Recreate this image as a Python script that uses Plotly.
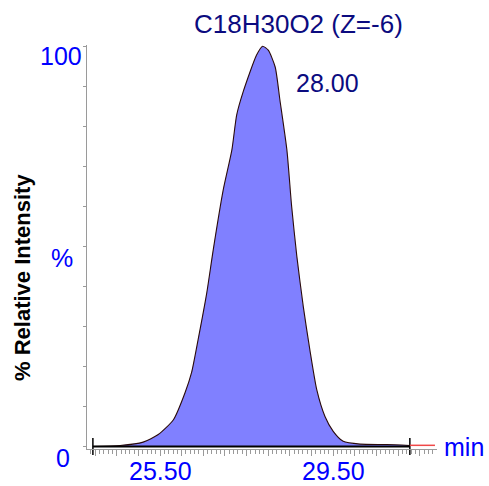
import plotly.graph_objects as go

# ---- data ----
times = [23.95, 24.58, 25.11, 25.46, 25.81, 26.08, 26.23, 26.38, 26.58, 26.73,
         26.96, 27.16, 27.27, 27.42, 27.73, 27.87, 28.00, 28.16, 28.27, 28.43,
         28.54, 28.66, 28.81, 28.96, 29.12, 29.31, 29.50, 29.73, 30.12, 30.74, 31.27]
intensity = [0.0, 0.25, 1.1, 3.0, 6.7, 13.5, 18.5, 26.7, 38.4, 49.2,
             64.1, 74.1, 82.8, 88.6, 97.8, 100.0, 99.0, 94.8, 86.5, 74.1,
             60.0, 47.5, 34.9, 24.2, 14.2, 7.5, 3.8, 1.3, 0.6, 0.5, 0.25]
baseline_t = [23.95, 31.27]
tail_t = [31.27, 31.85]
tail_i = [0.3, 0.3]
x_tick_vals = [25.5, 29.5]
x_tick_text = ["25.50", "29.50"]
y_tick_text = ["100", "%", "0"]
title_text = "C18H30O2 (Z=-6)"
apex_label = "28.00"

FONT = "Liberation Sans, Arial, sans-serif"
BLUE = "#0000FF"
NAVY = "#0B0B7F"

fig = go.Figure()
fig.add_trace(go.Scatter(x=times, y=intensity, mode="lines", fill="tozeroy",
                         fillcolor="#8080FF", line=dict(color="#2A0A0A", width=1.1,
                                                        shape="spline", smoothing=0.6),
                         hoverinfo="skip"))
fig.add_trace(go.Scatter(x=baseline_t, y=[0, 0], mode="lines+markers",
                         line=dict(color="black", width=2),
                         marker=dict(symbol="line-ns", size=12,
                                     line=dict(color="black", width=1.5)),
                         cliponaxis=False, hoverinfo="skip"))
fig.add_trace(go.Scatter(x=tail_t, y=tail_i, mode="lines",
                         line=dict(color="#F04848", width=1.5), hoverinfo="skip"))

W, H = 489, 486
L, R, T, B = 87, 52, 45, 37
pw, ph = W - L - R, H - T - B

def px_x(px):
    return (px - L) / pw

def px_y(py):
    return (H - B - py) / ph

annos = [
    dict(text=title_text, x=px_x(298), y=px_y(24), font=dict(color=NAVY, size=26)),
    dict(text=apex_label, x=px_x(327), y=px_y(83), font=dict(color=NAVY, size=25)),
    dict(text=y_tick_text[0], x=px_x(61), y=px_y(56), font=dict(color=BLUE, size=25)),
    dict(text=y_tick_text[1], x=px_x(62), y=px_y(258), font=dict(color=BLUE, size=25)),
    dict(text=y_tick_text[2], x=px_x(63), y=px_y(458), font=dict(color=BLUE, size=25)),
    dict(text="min", x=px_x(464), y=px_y(447), font=dict(color=BLUE, size=25)),
    dict(text="% Relative Intensity", x=px_x(22), y=px_y(278), textangle=-90,
         font=dict(color="black", size=22, family="Liberation Sans, Arial", weight="bold")),
]
for a in annos:
    a.update(xref="paper")
for v, t in zip(x_tick_vals, x_tick_text):
    annos.append(dict(text=t, x=v, xref="x", y=px_y(471),
                      font=dict(color=BLUE, size=25)))
for a in annos:
    a.update(yref="paper", showarrow=False, xanchor="center", yanchor="middle")
    a["font"].setdefault("family", FONT)

fig.update_layout(
    width=W, height=H, margin=dict(l=L, r=R, t=T, b=B, pad=0, autoexpand=False),
    paper_bgcolor="white", plot_bgcolor="white", showlegend=False,
    font=dict(family=FONT),
    annotations=annos,
    xaxis=dict(range=[23.814, 31.897], showgrid=False, zeroline=False, automargin=False,
               showline=True, linecolor="#9A9A9A", linewidth=1,
               ticks="outside", tickcolor="#9A9A9A", ticklen=6, tickwidth=1,
               dtick=0.5, tick0=0, showticklabels=False,
               minor=dict(dtick=0.1, tick0=0, ticks="outside", ticklen=4,
                          tickcolor="#9A9A9A", tickwidth=1)),
    yaxis=dict(range=[-0.62, 100.3], showgrid=False, zeroline=False, automargin=False,
               showline=True, linecolor="#9A9A9A", linewidth=1,
               ticks="outside", tickcolor="#9A9A9A", ticklen=3,
               tickvals=list(range(0, 101, 10)), showticklabels=False),
)

fig.write_html("out.html", config={"displayModeBar": False},
               post_script="document.body.style.margin='0';document.body.style.overflow='hidden';")
